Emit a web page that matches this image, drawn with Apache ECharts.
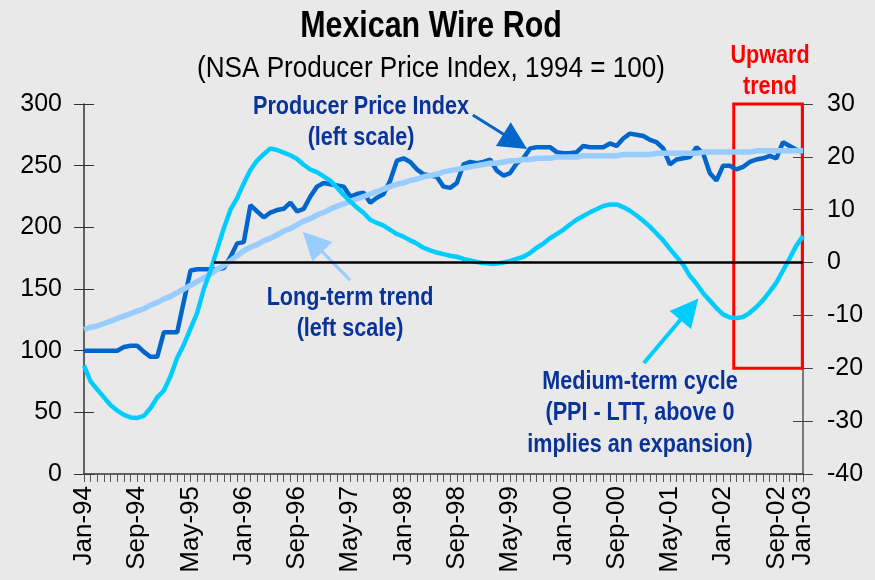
<!DOCTYPE html>
<html>
<head>
<meta charset="utf-8">
<script src="https://cdn.jsdelivr.net/npm/echarts@6/dist/echarts.min.js"></script>
<style>
  html, body { margin: 0; padding: 0; background: #e9e9e9; }
  #chart { width: 875px; height: 580px; }
</style>
</head>
<body>
<div id="chart"></div>
<script>
// x labels: month index from Jan-94 -> label
var tickPos = [0, 8, 16, 24, 32, 40, 48, 56, 64, 72, 80, 88, 96, 104, 108];
var tickLabels = ['Jan-94', 'Sep-94', 'May-95', 'Jan-96', 'Sep-96', 'May-97', 'Jan-98', 'Sep-98',
                  'May-99', 'Jan-00', 'Sep-00', 'May-01', 'Jan-02', 'Sep-02', 'Jan-03'];

// Producer Price Index (left scale), Jan-94 .. Jan-03
var ppi = [100, 100, 100, 100, 100, 100, 103, 104, 104, 99, 95, 95, 115, 115, 115, 140, 165, 166, 166, 166,
           166, 167, 176, 187, 188, 218, 213, 208, 212, 214, 215, 220, 213, 215, 225, 233, 236, 235, 234, 233,
           225, 227, 228, 220, 224, 227, 238, 254, 256, 253, 247, 243, 242, 241, 233, 232, 236, 251, 253, 252,
           253, 255, 246, 242, 244, 252, 256, 264, 265, 265, 265, 261, 260, 260, 261, 266, 265, 265, 265, 268,
           266, 272, 276, 275, 274, 271, 269, 264, 251, 255, 256, 257, 265, 260, 244, 238, 250, 250, 247, 249,
           253, 255, 256, 258, 256, 269, 266, 263, 261];

// Long-term trend (left scale)
var ltt = [117, 119, 120, 122, 124, 126, 128, 130, 132, 134, 137, 139, 142, 144, 147, 150, 153, 156, 159, 162,
           166, 169, 173, 177, 181, 184, 186, 189, 191, 194, 197, 199, 202, 205, 207, 210, 212, 215, 217, 219,
           221, 223, 225, 227, 229, 231, 233, 235, 236, 238, 239, 241, 242, 243, 245, 246, 247, 248, 249, 250,
           251, 252, 252, 253, 254, 254, 255, 255, 256, 256, 256, 257, 257, 257, 257, 258, 258, 258, 258, 258,
           258, 259, 259, 259, 259, 259, 260, 260, 260, 260, 260, 260, 260, 261, 261, 261, 261, 261, 261, 261,
           261, 262, 262, 262, 262, 262, 262, 262, 262];

// Medium-term cycle (right scale)
var cycle = [-19.5, -22.5, -24, -25.5, -27, -28, -28.8, -29.3, -29.4, -29, -27.5, -25.5, -24.2, -21.5, -18, -15.5,
             -12.5, -9.5, -5, -1.5, 2.5, 6.5, 10, 12.2, 15, 17.5, 19.3, 20.5, 21.6, 21.3, 20.8, 20.3, 19.6, 18.5,
             17.6, 17.1, 16.3, 15.5, 14.2, 12.8, 11.6, 10.4, 9.4, 8.1, 7.5, 7, 6.2, 5.4, 4.9, 4.2, 3.6, 2.8, 2.3,
             1.9, 1.6, 1.3, 1.1, 0.7, 0.4, 0.1, -0.1, -0.2, -0.2, 0, 0.3, 0.7, 1.1, 1.8, 2.8, 3.6, 4.6, 5.4, 6.2,
             7.2, 8.1, 8.8, 9.5, 10.1, 10.7, 11, 11, 10.5, 9.8, 8.9, 7.9, 6.8, 5.5, 4.2, 2.6, 1.1, -0.4, -2.5, -4,
             -5.8, -7.2, -8.6, -9.8, -10.4, -10.5, -10.3, -9.5, -8.4, -7.1, -5.5, -3.8, -1.5, 0.8, 3.2, 5];

var FONT = '"Liberation Sans", Arial, sans-serif';
var NAVY = '#0a3399';
var NARROW = 0.83;   // no narrow font installed, squeeze the bold annotations instead

function pairs(arr) {
  return arr.map(function (v, i) { return [i, v]; });
}

// arrow as a markLine: plain start, triangle at the end
function arrow(from, to, color, width) {
  return [
    { coord: from, symbol: 'none', lineStyle: { color: color, width: width, type: 'solid' } },
    { coord: to, symbol: 'triangle', symbolSize: 28 }
  ];
}

function note(x, y, text, color, lh) {
  return {
    type: 'text', x: x, y: y, scaleX: NARROW,
    style: {
      text: text, fontSize: 26, fontWeight: 'bold', fontFamily: FONT, fill: color,
      align: 'center', verticalAlign: 'middle', lineHeight: lh
    }
  };
}

var chart = echarts.init(document.getElementById('chart'));

var option = {
  backgroundColor: '#e9e9e9',
  animation: false,
  grid: { left: 84, right: 72, top: 104, bottom: 106 },
  xAxis: {
    type: 'value',
    min: 0,
    max: 108,
    interval: 1,
    axisLine: { show: true, lineStyle: { color: '#333', width: 1.5 } },
    axisTick: { show: true, length: 8, lineStyle: { color: '#555' } },
    splitLine: { show: false },
    axisLabel: {
      rotate: 90,
      margin: 12,
      fontSize: 26,
      fontFamily: FONT,
      color: '#000',
      formatter: function (val) {
        var k = tickPos.indexOf(val);
        return k >= 0 ? tickLabels[k] : '';
      }
    }
  },
  yAxis: [
    { // left scale
      type: 'value', position: 'left', min: 0, max: 300, interval: 50,
      axisLine: { show: true, lineStyle: { color: '#333', width: 1.5 } },
      axisTick: { show: true, length: 10, lineStyle: { color: '#333' } },
      splitLine: { show: false },
      axisLabel: { margin: 22, fontSize: 25, fontFamily: FONT, color: '#000' }
    },
    { // left inner ticks
      type: 'value', position: 'left', min: 0, max: 300, interval: 50,
      axisLine: { show: false },
      axisTick: { show: true, inside: true, length: 10, lineStyle: { color: '#333' } },
      axisLabel: { show: false }, splitLine: { show: false }
    },
    { // right scale
      type: 'value', position: 'right', min: -40, max: 30, interval: 10,
      axisLine: { show: true, lineStyle: { color: '#555', width: 1.5 } },
      axisTick: { show: true, length: 10, lineStyle: { color: '#444' } },
      splitLine: { show: false },
      axisLabel: { margin: 24, fontSize: 25, fontFamily: FONT, color: '#000' }
    },
    { // right inner ticks
      type: 'value', position: 'right', min: -40, max: 30, interval: 10,
      axisLine: { show: false },
      axisTick: { show: true, inside: true, length: 10, lineStyle: { color: '#444' } },
      axisLabel: { show: false }, splitLine: { show: false }
    }
  ],
  series: [
    {
      name: 'Producer Price Index',
      type: 'line',
      yAxisIndex: 0,
      data: pairs(ppi),
      showSymbol: false,
      lineStyle: { color: '#0066cc', width: 4.5 },
      markLine: {
        silent: true,
        label: { show: false },
        data: [arrow([58.4, 291], [64.77, 269.6], '#0066cc', 3)]
      }
    },
    {
      name: 'Long-term trend',
      type: 'line',
      yAxisIndex: 0,
      data: pairs(ltt),
      showSymbol: false,
      lineStyle: { color: '#99ccff', width: 5.5 },
      markLine: {
        silent: true,
        label: { show: false },
        data: [arrow([39.96, 157.2], [34.33, 188.3], '#99ccff', 3)]
      }
    },
    {
      name: 'Medium-term cycle',
      type: 'line',
      yAxisIndex: 2,
      data: pairs(cycle),
      showSymbol: false,
      lineStyle: { color: '#00ccff', width: 4.5 },
      markLine: {
        silent: true,
        label: { show: false },
        data: [
          [
            { coord: [19.5, 0], symbol: 'none', lineStyle: { color: '#000', width: 2.5, type: 'solid' } },
            { coord: [108, 0], symbol: 'none' }
          ],
          arrow([84.1, -19.0], [90.93, -8.84], '#00ccff', 4)
        ]
      },
      markArea: {
        silent: true,
        itemStyle: { color: 'rgba(0,0,0,0)', borderColor: '#ff0000', borderWidth: 3 },
        data: [[{ coord: [97.6, 30] }, { coord: [107.9, -20] }]]
      }
    }
  ],
  graphic: [
    { type: 'text', x: 431, y: 27, scaleX: 0.845, style: { text: 'Mexican Wire Rod', fontSize: 36, fontWeight: 'bold', fontFamily: FONT, fill: '#000', align: 'center', verticalAlign: 'middle' } },
    { type: 'text', x: 431, y: 69, scaleX: 0.9, style: { text: '(NSA Producer Price Index, 1994 = 100)', fontSize: 29, fontFamily: FONT, fill: '#000', align: 'center', verticalAlign: 'middle' } },
    note(770, 71, 'Upward\ntrend', '#ff0000', 31),
    note(361, 122, 'Producer Price Index\n(left scale)', NAVY, 31),
    note(350, 313, 'Long-term trend\n(left scale)', NAVY, 31),
    note(640, 413, 'Medium-term cycle\n(PPI - LTT, above 0\nimplies an expansion)', NAVY, 31.5)
  ]
};

chart.setOption(option);
</script>
</body>
</html>
